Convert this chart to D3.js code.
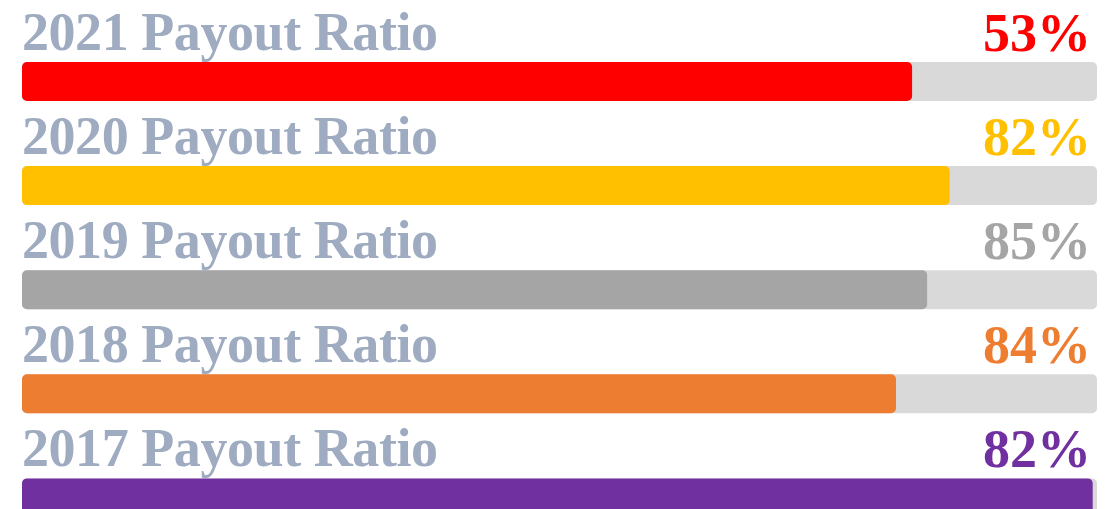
<!DOCTYPE html>
<html>
<head>
<meta charset="utf-8">
<script src="https://cdn.jsdelivr.net/npm/d3@7"></script>
<style>
  html, body { margin: 0; padding: 0; background: #ffffff; overflow: hidden; }
  svg { display: block; }
</style>
</head>
<body>
<svg id="chart" width="1116" height="509"></svg>
<script>
// Payout ratio rows, newest first
const years = ["2021", "2020", "2019", "2018", "2017"];
const ratioLabels = ["53%", "82%", "85%", "84%", "82%"];
// Share of each progress track that is filled
const fillShare = [0.828, 0.863, 0.842, 0.813, 0.996];
const rowColors = ["#ff0000", "#ffc000", "#a5a5a5", "#ed7d31", "#7030a0"];

const W = 1116, H = 509;
const svg = d3.select("#chart");

const rows = years.map((y, i) => ({
  year: y,
  label: ratioLabels[i],
  share: fillShare[i],
  color: rowColors[i]
}));

const x = d3.scaleLinear().domain([0, 1]).range([22, 1097]);
const yBand = d3.scaleBand().domain(years).range([10, 10 + 104.1 * years.length]).paddingInner(0);

const barOffset = 52, barH = 39, radius = 5;
const fontFamily = "'Liberation Serif', 'Times New Roman', serif";

const g = svg.selectAll("g.row").data(rows).enter().append("g").attr("class", "row");

// grey track
g.append("rect")
  .attr("x", x(0))
  .attr("y", d => yBand(d.year) + barOffset)
  .attr("width", x(1) - x(0))
  .attr("height", barH)
  .attr("rx", radius)
  .attr("fill", "#d9d9d9");

// coloured fill
g.append("rect")
  .attr("x", x(0))
  .attr("y", d => yBand(d.year) + barOffset)
  .attr("width", d => x(d.share) - x(0))
  .attr("height", barH)
  .attr("rx", radius)
  .attr("fill", d => d.color);

// row title
g.append("text")
  .attr("x", x(0))
  .attr("y", d => yBand(d.year) + barOffset - 12)
  .attr("font-family", fontFamily)
  .attr("font-weight", "bold")
  .attr("font-size", 54)
  .attr("textLength", 416)
  .attr("lengthAdjust", "spacing")
  .attr("fill", "#9eabc0")
  .text(d => `${d.year} Payout Ratio`);

// ratio value
g.append("text")
  .attr("x", 1091)
  .attr("y", d => yBand(d.year) + barOffset - 11)
  .attr("text-anchor", "end")
  .attr("font-family", fontFamily)
  .attr("font-weight", "bold")
  .attr("font-size", 54)
  .attr("fill", d => d.color)
  .text(d => d.label);
</script>
</body>
</html>
